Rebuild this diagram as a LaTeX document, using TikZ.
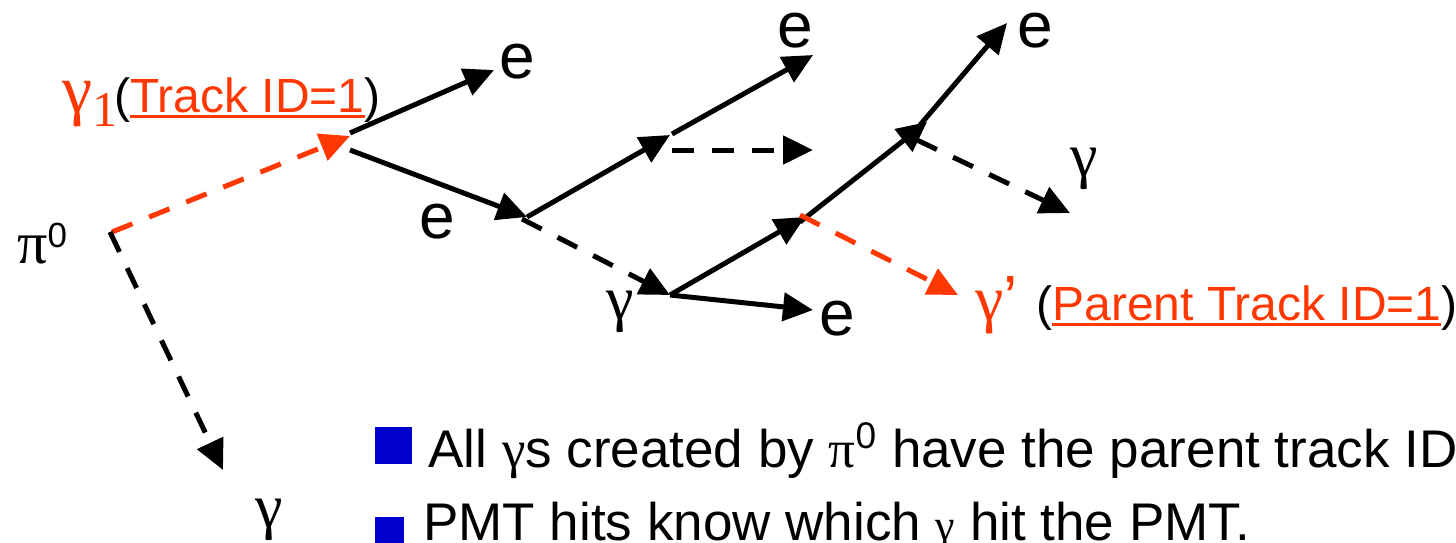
\documentclass[tikz,border=0pt]{standalone}
\usepackage{fontspec}
\setmainfont{Liberation Sans}
\newfontfamily\grkfont{Liberation Serif}
\usetikzlibrary{arrows.meta}
\definecolor{pred}{RGB}{255,55,0}
\definecolor{pblue}{RGB}{0,0,204}
\newcommand\myul[1]{\setbox0\hbox{#1}\rlap{\rule[-3pt]{\wd0}{1.5pt}}\box0}
\newcommand\gk[1]{{\grkfont #1}}
\begin{document}
\begin{tikzpicture}[x=0.5pt,y=-0.5pt,
  trk/.style={line width=2.5pt,-{Triangle[length=15pt,width=14pt]}},
  phot/.style={trk,dash pattern=on 11pt off 9pt},
  rphot/.style={phot,draw=pred,-{Triangle[length=15pt,width=14pt,fill=pred]}},
  lbl/.style={inner sep=0pt,anchor=base west},
  elbl/.style={lbl,text height=0.6em,font=\fontsize{32}{32}\selectfont},
  glbl/.style={lbl,font=\grkfont\fontsize{31}{31}\selectfont},
  idlbl/.style={lbl,font=\fontsize{24}{24}\selectfont},
  txt/.style={lbl,font=\fontsize{26.5}{26.5}\selectfont},
  bullet/.style={fill=pblue,inner sep=0pt,minimum size=#1}
]
\clip (0,0) rectangle (1456,542);
\fill[white] (0,0) rectangle (1456,542);

% vertices
\coordinate (v0) at (112,232);
\coordinate (v0b) at (110,232);
\coordinate (g1tip) at (350,136);
\coordinate (ua) at (350,133);
\coordinate (ub) at (350,150);
\coordinate (e1tip) at (494,70);
\coordinate (c) at (527,217);
\coordinate (cb) at (522,219);
\coordinate (d) at (670,135);
\coordinate (da) at (672,134);
\coordinate (db) at (672,150);
\coordinate (e3tip) at (813,55);
\coordinate (htip) at (813,150);
\coordinate (ep) at (670,295);
\coordinate (e4tip) at (813,310);
\coordinate (f) at (805,217);
\coordinate (fa) at (800,222);
\coordinate (fb) at (800,215);
\coordinate (g) at (927,122);
\coordinate (ga) at (920,125);
\coordinate (gd) at (917,140);
\coordinate (e5tip) at (1007,23);
\coordinate (grtip) at (1070,213);
\coordinate (gptip) at (958,295);
\coordinate (gbtip) at (223,470);

% labels
\node[lbl] (pi0) at (17,263) {\gk{\fontsize{30}{30}\selectfont π}\raisebox{8pt}{\fontsize{17.5}{17.5}\selectfont 0}};
\node[lbl] (g1lbl) at (62,112) {\textcolor{pred}{\gk{\fontsize{34}{34}\selectfont γ}\raisebox{-7pt}{\gk{\fontsize{25}{25}\selectfont 1}}}};
\node[idlbl] (tid) at (114,112) {(\textcolor{pred}{\myul{Track ID=1}})};
\node[elbl] (e1) at (499,78) {e};
\node[elbl] (e2) at (419,238) {e};
\node[elbl] (e3) at (777,47) {e};
\node[glbl] (gm) at (606,319) {γ};
\node[elbl] (e4) at (819,335) {e};
\node[elbl] (e5) at (1017,47) {e};
\node[glbl] (gr) at (1070,176) {γ};
\node[lbl,text=pred] (gp) at (975,320) {\gk{\fontsize{32}{32}\selectfont γ}\fontsize{32}{32}\selectfont ’};
\node[idlbl] (pid) at (1036,320) {(\textcolor{pred}{\myul{Parent Track ID=1}})};
\node[glbl] (gbot) at (255,527) {γ};

% tracks
\draw[rphot] (v0) -- (g1tip);
\draw[phot] (v0b) -- (gbtip);
\draw[trk] (ua) -- (e1tip);
\draw[trk] (ub) -- (c);
\draw[trk] (c) -- (d);
\draw[trk] (da) -- (e3tip);
\draw[phot] (db) -- (htip);
\draw[phot] (cb) -- (ep);
\draw[trk] (ep) -- (e4tip);
\draw[trk] (ep) -- (f);
\draw[trk] (fa) -- (g);
\draw[trk] (ga) -- (e5tip);
\draw[phot] (gd) -- (grtip);
\draw[rphot] (fb) -- (gptip);

% bullet text
\node[bullet=18.5pt] (b1) at (393.5,445.5) {};
\node[txt] (t1) at (428,467) {All \gk{γ}s created by \gk{π}\textsuperscript{0} have the parent track ID};
\node[bullet=14.5pt] (b2) at (389.5,531) {};
\node[txt] (t2) at (423,540) {PMT hits know which {\fontsize{22}{22}\selectfont\gk{γ}} hit the PMT.};
\end{tikzpicture}
\end{document}
